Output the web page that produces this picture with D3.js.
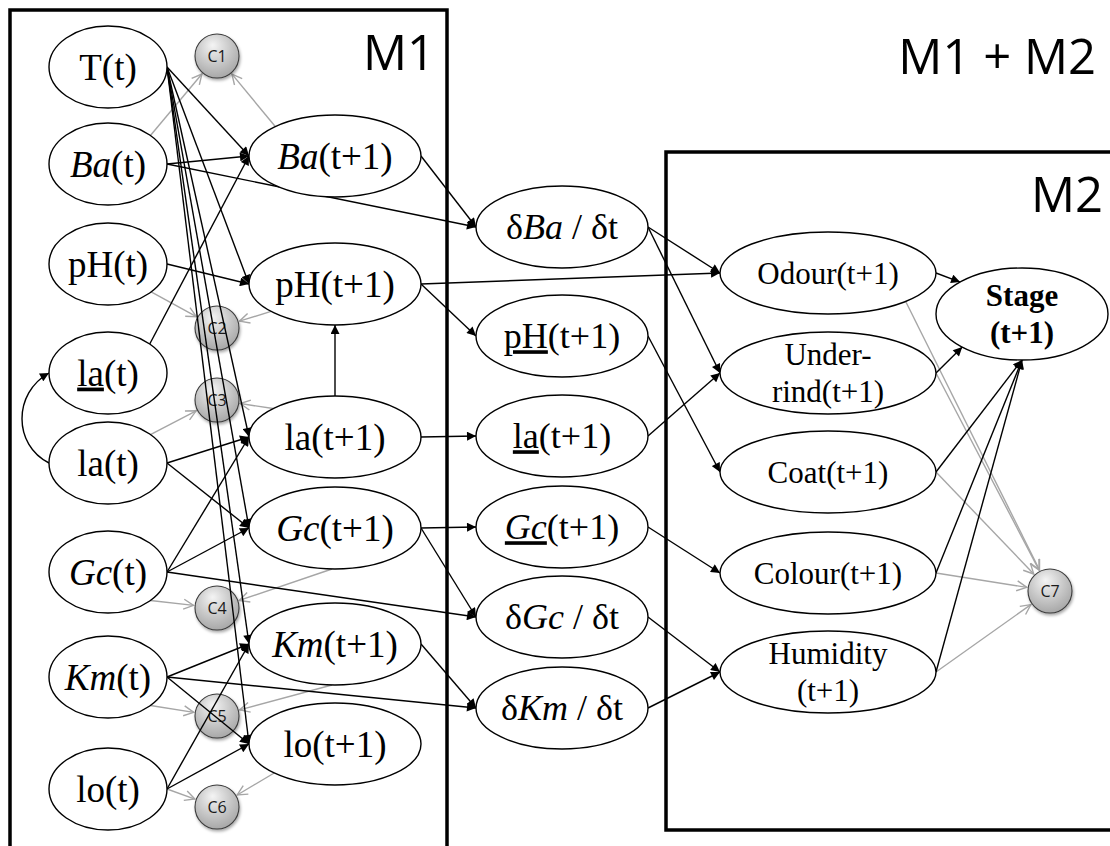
<!DOCTYPE html>
<html>
<head>
<meta charset="utf-8">
<script src="https://cdn.jsdelivr.net/npm/d3@7"></script>
<style>
  body { margin: 0; background: #fff; }
  svg { display: block; }
  .serif { font-family: "Liberation Serif", "DejaVu Serif", "Times New Roman", Times, serif; }
  .sans { font-family: "Open Sans", "Liberation Sans", sans-serif; }
</style>
</head>
<body>
<svg></svg>
<script>
const width = 1110;
const height = 846;

// node ids per column, with their row slot (top to bottom)
const colT = ["T", "Ba", "pH", "laU", "la", "Gc", "Km", "lo"];
const rowT = [0, 0.97, 1.97, 3.06, 3.96, 5.05, 6.1, 7.22];
const colC = ["C1", "C2", "C3", "C4", "C5", "C6"];
const rowC = [-0.11, 2.61, 3.33, 5.41, 6.49, 7.4];
const colT1 = ["Ba1", "pH1", "la1", "Gc1", "Km1", "lo1"];
const rowT1 = [0.89, 2.17, 3.7, 4.61, 5.77, 6.77];
const colD = ["dBa", "pHU1", "laU1", "GcU1", "dGc", "dKm"];
const rowD = [1.6, 2.69, 3.69, 4.6, 5.5, 6.41];
const colObs = ["Odour", "Rind", "Coat", "Colour", "Humidity"];
const rowObs = [2.06, 3.06, 4.05, 5.06, 6.05];
const colSt = ["Stage"];
const rowSt = [2.47];
const colC7 = ["C7"];
const rowC7 = [5.24];

// labels: lines -> segments [text, style] (i italic, u underline, b bold)
const labels = {
    T: [[["T(t)"]]],
    Ba: [[["Ba", "i"], ["(t)"]]],
    pH: [[["pH(t)"]]],
    laU: [[["la", "u"], ["(t)"]]],
    la: [[["la(t)"]]],
    Gc: [[["Gc", "i"], ["(t)"]]],
    Km: [[["Km", "i"], ["(t)"]]],
    lo: [[["lo(t)"]]],
    Ba1: [[["Ba", "i"], ["(t+1)"]]],
    pH1: [[["pH(t+1)"]]],
    la1: [[["la(t+1)"]]],
    Gc1: [[["Gc", "i"], ["(t+1)"]]],
    Km1: [[["Km", "i"], ["(t+1)"]]],
    lo1: [[["lo(t+1)"]]],
    dBa: [[["δ"], ["Ba", "i"], [" / δt"]]],
    pHU1: [[["pH", "u"], ["(t+1)"]]],
    laU1: [[["la", "u"], ["(t+1)"]]],
    GcU1: [[["Gc", "iu"], ["(t+1)"]]],
    dGc: [[["δ"], ["Gc", "i"], [" / δt"]]],
    dKm: [[["δ"], ["Km", "i"], [" / δt"]]],
    Odour: [[["Odour(t+1)"]]],
    Rind: [[["Under-"]], [["rind(t+1)"]]],
    Coat: [[["Coat(t+1)"]]],
    Colour: [[["Colour(t+1)"]]],
    Humidity: [[["Humidity"]], [["(t+1)"]]],
    Stage: [[["Stage", "b"]], [["(t+1)", "b"]]],
    C1: "C1", C2: "C2", C3: "C3", C4: "C4", C5: "C5", C6: "C6", C7: "C7"
};

// causal arcs: source, target, source port angle, target port angle
const arcs = [
    ["T", "Ba1"], ["T", "pH1"], ["T", "la1"], ["T", "Gc1"], ["T", "Km1"], ["T", "lo1"],
    ["Ba", "Ba1"], ["Ba", "dBa"], ["laU", "Ba1", -45, 180], ["pH", "pH1"],
    ["la", "la1"], ["la", "Gc1"], ["Gc", "la1"], ["Gc", "Gc1"], ["Gc", "dGc"],
    ["Km", "Km1"], ["Km", "lo1"], ["Km", "dKm"], ["lo", "Km1"], ["lo", "lo1"],
    ["la1", "pH1", -90, 90],
    ["Ba1", "dBa"], ["pH1", "Odour"], ["pH1", "pHU1"], ["la1", "laU1"],
    ["Gc1", "GcU1"], ["Gc1", "dGc"], ["Km1", "dKm"],
    ["dBa", "Odour"], ["dBa", "Rind"], ["pHU1", "Coat"], ["laU1", "Rind"],
    ["GcU1", "Colour"], ["dGc", "Humidity"], ["dKm", "Humidity"],
    ["Odour", "Stage", 0, -136], ["Rind", "Stage", 0, 134],
    ["Coat", "Stage", 0, 90], ["Colour", "Stage", 0, 90], ["Humidity", "Stage", 0, 90]
];
const loopArcs = [["la", "laU"]];

// links into the check nodes: source, target, source port angle
const checkArcs = [
    ["Ba", "C1", -44], ["Ba1", "C1", -134], ["pH", "C2", 43], ["pH1", "C2", 138],
    ["la", "C3", -44], ["la1", "C3", -136], ["Gc", "C4", 44], ["Gc1", "C4", 92],
    ["Km", "C5", 44], ["Km1", "C5", 92], ["lo", "C6", 0], ["lo1", "C6", 135],
    ["Odour", "C7", 44], ["Rind", "C7", 0], ["Coat", "C7", 0],
    ["Colour", "C7", 0], ["Humidity", "C7", 0]
];

const boxLabels = ["M1", "M2", "M1 + M2"];

const x = d3.scaleOrdinal()
    .domain(["t", "c", "t1", "d", "obs", "st", "c7"])
    .range([108, 217, 335, 562, 828, 1022, 1050]);
const y = d3.scaleLinear().domain([0, 1]).range([67, 167]);

const shape = {
    t: { rx: 59, ry: 41, fs: 37 },
    c: { rx: 22, ry: 22, fs: 16 },
    t1: { rx: 86, ry: 41, fs: 37 },
    d: { rx: 86, ry: 41, fs: 36 },
    obs: { rx: 108, ry: 41, fs: 31 },
    st: { rx: 86, ry: 46, fs: 31 },
    c7: { rx: 22, ry: 22, fs: 16 }
};

const nodes = new Map();
[[colT, rowT, "t"], [colC, rowC, "c"], [colT1, rowT1, "t1"], [colD, rowD, "d"],
 [colObs, rowObs, "obs"], [colSt, rowSt, "st"], [colC7, rowC7, "c7"]]
    .forEach(([ids, rows, col]) => ids.forEach((id, i) => {
        nodes.set(id, { id, col, cx: x(col), cy: y(rows[i]), ...shape[col] });
    }));

function port(n, deg) {
    const a = deg * Math.PI / 180;
    return [n.cx + n.rx * Math.cos(a), n.cy + n.ry * Math.sin(a)];
}

const svg = d3.select("svg")
    .attr("width", width)
    .attr("height", height)
    .attr("viewBox", [0, 0, width, height]);

const defs = svg.append("defs");

defs.append("marker")
    .attr("id", "arrow")
    .attr("viewBox", "0 0 10 10")
    .attr("refX", 10)
    .attr("refY", 5)
    .attr("markerWidth", 10)
    .attr("markerHeight", 9)
    .attr("markerUnits", "userSpaceOnUse")
    .attr("orient", "auto")
    .append("path")
    .attr("d", "M0,0 L10,5 L0,10 Z")
    .attr("fill", "#000");

defs.append("marker")
    .attr("id", "open-arrow")
    .attr("viewBox", "0 0 12 12")
    .attr("refX", 11)
    .attr("refY", 6)
    .attr("markerWidth", 12)
    .attr("markerHeight", 12)
    .attr("markerUnits", "userSpaceOnUse")
    .attr("orient", "auto")
    .append("path")
    .attr("d", "M1,1 L11,6 L1,11")
    .attr("fill", "none")
    .attr("stroke", "#a6a6a6")
    .attr("stroke-width", 1.4);

const ballGradient = defs.append("radialGradient")
    .attr("id", "ball")
    .attr("cx", "45%")
    .attr("cy", "35%")
    .attr("r", "70%")
    .attr("fx", "40%")
    .attr("fy", "25%");
ballGradient.append("stop").attr("offset", "0%").attr("stop-color", "#f4f4f4");
ballGradient.append("stop").attr("offset", "100%").attr("stop-color", "#a3a3a3");

const shadow = defs.append("filter")
    .attr("id", "shadow")
    .attr("x", "-50%").attr("y", "-50%")
    .attr("width", "200%").attr("height", "200%");
shadow.append("feDropShadow")
    .attr("dx", 1).attr("dy", 2)
    .attr("stdDeviation", 1.5)
    .attr("flood-color", "#000")
    .attr("flood-opacity", 0.35);

svg.append("rect")
    .attr("width", width)
    .attr("height", height)
    .attr("fill", "#fff");

// model boxes
svg.append("rect")
    .attr("x", 10).attr("y", 10)
    .attr("width", 437).attr("height", 900)
    .attr("fill", "none").attr("stroke", "#000").attr("stroke-width", 3.5);
svg.append("rect")
    .attr("x", 666).attr("y", 152)
    .attr("width", 500).attr("height", 678)
    .attr("fill", "none").attr("stroke", "#000").attr("stroke-width", 3.5);

svg.selectAll("text.box")
    .data(boxLabels)
    .join("text")
    .attr("class", "box sans")
    .attr("x", (d, i) => [435, 1103, 1096][i])
    .attr("y", (d, i) => [70, 212, 74][i])
    .attr("text-anchor", "end")
    .attr("font-size", 49)
    .attr("fill", "#000")
    .text(d => d);

// grey links into check nodes
svg.append("g")
    .selectAll("line")
    .data(checkArcs)
    .join("line")
    .each(function ([s, t, a]) {
        const src = nodes.get(s);
        const tgt = nodes.get(t);
        const p = port(src, a);
        const dx = tgt.cx - p[0];
        const dy = tgt.cy - p[1];
        const len = Math.hypot(dx, dy);
        const gap = tgt.rx + 1.5;
        d3.select(this)
            .attr("x1", p[0]).attr("y1", p[1])
            .attr("x2", tgt.cx - dx / len * gap)
            .attr("y2", tgt.cy - dy / len * gap);
    })
    .attr("stroke", "#a6a6a6")
    .attr("stroke-width", 1.4)
    .attr("marker-end", "url(#open-arrow)");

// check nodes
const balls = svg.append("g")
    .selectAll("g")
    .data([...nodes.values()].filter(n => n.col === "c" || n.col === "c7"))
    .join("g")
    .attr("transform", d => `translate(${d.cx},${d.cy})`);
balls.append("circle")
    .attr("r", d => d.rx)
    .attr("fill", "url(#ball)")
    .attr("stroke", "#3a3a3a")
    .attr("stroke-width", 1.1)
    .attr("filter", "url(#shadow)");
balls.append("text")
    .attr("class", "sans")
    .attr("text-anchor", "middle")
    .attr("dy", "0.36em")
    .attr("font-size", d => d.fs)
    .attr("fill", "#1a1a1a")
    .text(d => labels[d.id]);

// causal arcs
svg.append("g")
    .selectAll("line")
    .data(arcs)
    .join("line")
    .each(function ([s, t, a = 0, b = 180]) {
        const p = port(nodes.get(s), a);
        const q = port(nodes.get(t), b);
        d3.select(this)
            .attr("x1", p[0]).attr("y1", p[1])
            .attr("x2", q[0]).attr("y2", q[1]);
    })
    .attr("stroke", "#000")
    .attr("stroke-width", 1.4)
    .attr("marker-end", "url(#arrow)");

svg.append("g")
    .selectAll("path")
    .data(loopArcs)
    .join("path")
    .attr("d", ([s, t]) => {
        const p = port(nodes.get(s), 180);
        const q = port(nodes.get(t), 180);
        const path = d3.path();
        path.moveTo(p[0], p[1]);
        path.bezierCurveTo(p[0] - 36, p[1] - 18, q[0] - 36, q[1] + 20, q[0], q[1]);
        return path.toString();
    })
    .attr("fill", "none")
    .attr("stroke", "#000")
    .attr("stroke-width", 1.4)
    .attr("marker-end", "url(#arrow)");

// variable nodes
const vars = svg.append("g")
    .selectAll("g")
    .data([...nodes.values()].filter(n => n.col !== "c" && n.col !== "c7"))
    .join("g");
vars.append("ellipse")
    .attr("cx", d => d.cx)
    .attr("cy", d => d.cy)
    .attr("rx", d => d.rx)
    .attr("ry", d => d.ry)
    .attr("fill", "#fff")
    .attr("stroke", "#000")
    .attr("stroke-width", 1.4);

vars.append("text")
    .attr("class", "serif")
    .attr("text-anchor", "middle")
    .attr("font-size", d => d.fs)
    .attr("fill", "#000")
    .each(function (d) {
        const lines = labels[d.id];
        const text = d3.select(this);
        lines.forEach((segs, li) => {
            const base = lines.length === 1
                ? d.cy + 0.34 * d.fs
                : d.cy + (li === 0 ? -0.25 : 0.93) * d.fs;
            const line = text.append("tspan")
                .attr("x", d.cx)
                .attr("y", base);
            segs.forEach(([s, st = ""]) => {
                line.append("tspan")
                    .attr("font-style", st.includes("i") ? "italic" : null)
                    .attr("font-weight", st.includes("b") ? "bold" : null)
                    .attr("text-decoration", st.includes("u") ? "underline" : null)
                    .text(s);
            });
        });
    });
</script>
</body>
</html>
